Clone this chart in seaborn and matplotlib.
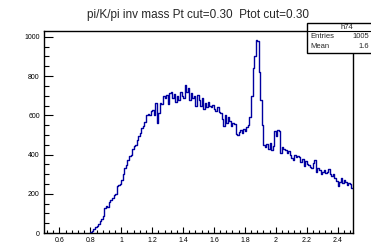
import numpy as np
import pandas as pd
import matplotlib
matplotlib.use("Agg")
import matplotlib.pyplot as plt
import seaborn as sns
from matplotlib.patches import Rectangle
from matplotlib.ticker import MultipleLocator, FormatStrFormatter

# histogram h74: bin width 0.01 from 0.80 to 2.50
bin_edges = np.round(np.arange(0.80, 2.505, 0.01), 3)
counts = [
    5, 12, 20, 30, 38, 45, 60, 72, 85, 130,            # 0.80
    140, 135, 160, 170, 180, 195, 200, 240, 245, 250,  # 0.90
    270, 300, 330, 345, 370, 395, 400, 430, 445, 450,  # 1.00
    475, 495, 510, 535, 545, 565, 600, 605, 600, 620,  # 1.10
    625, 600, 665, 560, 610, 665, 660, 700, 690, 705,  # 1.20
    660, 715, 720, 690, 710, 670, 700, 680, 720, 700,  # 1.30
    690, 755, 720, 740, 680, 715, 690, 700, 650, 705,  # 1.40
    680, 650, 690, 630, 665, 640, 670, 650, 640, 655,  # 1.50
    630, 620, 645, 615, 610, 580, 545, 600, 560, 590,  # 1.60
    570, 545, 560, 555, 505, 500, 515, 525, 510, 530,  # 1.70
    520, 540, 550, 590, 700, 840, 900, 985, 980, 820,  # 1.80
    680, 550, 450, 440, 455, 430, 460, 425, 445, 520,  # 1.90
    495, 525, 520, 410, 440, 430, 425, 410, 420, 400,  # 2.00
    380, 370, 400, 385, 395, 390, 360, 375, 340, 365,  # 2.10
    350, 345, 335, 330, 355, 370, 310, 330, 320, 300,  # 2.20
    310, 320, 305, 310, 325, 300, 290, 300, 280, 265,  # 2.30
    240, 260, 280, 255, 270, 260, 245, 255, 250, 232,  # 2.40
]
bin_centers = (bin_edges[:-1] + bin_edges[1:]) / 2

title = "pi/K/pi inv mass Pt cut=0.30  Ptot cut=0.30"
hist_name = "h74"
# stats box values as far as they are visible in the picture
entries = "1005"
mean = "1.6"

df = pd.DataFrame({"mass": bin_centers, "n": counts})

sns.set_style("ticks")
plt.rcParams["font.family"] = ["Liberation Sans", "DejaVu Sans"]

fig = plt.figure(figsize=(3.71, 2.43), dpi=100)
W, H = 371, 243
ax = fig.add_axes([44 / W, 1 - 233 / H, (353 - 44) / W, (233 - 31) / H])

sns.histplot(data=df, x="mass", weights="n", bins=list(bin_edges), element="step",
             fill=False, color="#0000a0", linewidth=1.0, ax=ax)

ax.set_xlim(0.5, 2.5)
ax.set_ylim(0, 1030)
ax.set_xlabel("")
ax.set_ylabel("")
ax.xaxis.set_minor_locator(MultipleLocator(0.04))
ax.yaxis.set_major_locator(MultipleLocator(200))
ax.yaxis.set_minor_locator(MultipleLocator(50))
ax.set_xticks([0.6, 0.8, 1, 1.2, 1.4, 1.6, 1.8, 2, 2.2, 2.4])
ax.xaxis.set_major_formatter(FormatStrFormatter("%g"))
ax.tick_params(axis="both", which="both", direction="in", width=0.8,
               labelsize=5, colors="black", pad=3)
ax.tick_params(axis="x", which="major", length=4.3)
ax.tick_params(axis="x", which="minor", length=2.2)
ax.tick_params(axis="y", which="major", length=6.5)
ax.tick_params(axis="y", which="minor", length=3.6)
for s in ax.spines.values():
    s.set_visible(True)
    s.set_color("black")
    s.set_linewidth(1.0)

fig.text(198 / W, 1 - 15 / H, title, ha="center", va="center", fontsize=8.5)

# stats box (runs off the right edge, as in ROOT canvas)
fig.add_artist(Rectangle((307 / W, 1 - 53 / H), 80 / W, 30 / H,
                         transform=fig.transFigure, facecolor="white",
                         edgecolor="black", linewidth=1.0, zorder=5))
fig.add_artist(plt.Line2D([307 / W, 1], [1 - 31 / H, 1 - 31 / H],
                          transform=fig.transFigure, color="black",
                          linewidth=0.8, zorder=6))
fig.text(347 / W, 1 - 27 / H, hist_name, ha="center", va="center", fontsize=5.5, zorder=7)
fig.text(310 / W, 1 - 37 / H, "Entries", ha="left", va="center", fontsize=5.5, zorder=7)
fig.text(369 / W, 1 - 37 / H, entries, ha="right", va="center", fontsize=5.5, zorder=7)
fig.text(310 / W, 1 - 47 / H, "Mean", ha="left", va="center", fontsize=5.5, zorder=7)
fig.text(369 / W, 1 - 47 / H, mean, ha="right", va="center", fontsize=5.5, zorder=7)

fig.savefig("out.png", dpi=100)
